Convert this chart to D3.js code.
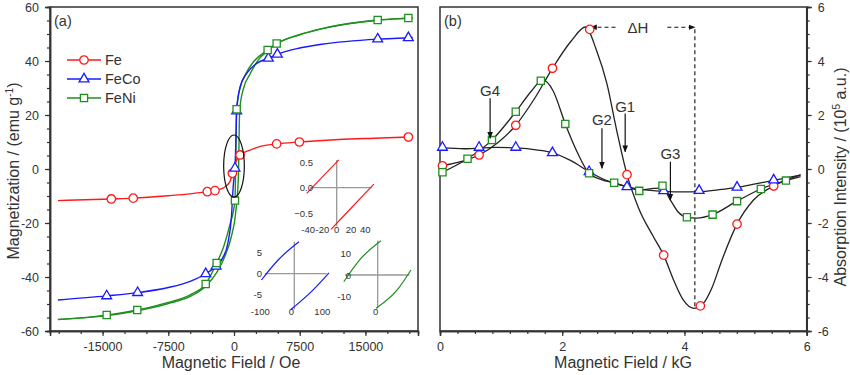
<!DOCTYPE html>
<html>
<head>
<meta charset="utf-8">
<script src="https://cdn.jsdelivr.net/npm/d3@7"></script>
<style>
    body { margin: 0; background: #fff; }
    svg text { font-family: "Liberation Sans", Arial, sans-serif; fill: #333; }
</style>
</head>
<body>
<svg id="chart" width="850" height="375"></svg>
<script>
// ---------- data, panel (a): field (Oe) vs magnetization (emu/g) ----------
const feLineA = [[-20100,-11.7],[-14000,-11.1],[-11500,-10.8],[-7500,-9.9],[-5000,-9.2],[-3050,-8.4],[-2170,-8.0],[-1200,-7.0],[-460,-4.7],[-190,-1.6],[200,2.6],[690,5.2],[1830,7.0],[3000,8.4],[4870,9.3],[7460,10.0],[12000,10.9],[16000,11.4],[19900,11.85],[20400,11.9]];
const feMarksA = [[-14000,-11.1],[-11500,-10.8],[-3050,-8.4],[-2170,-8.0],[-190,-1.6],[690,5.2],[4870,9.3],[7460,10.0],[19900,11.85]];

const fecoLineA = [[-20100,-48.5],[-14530,-47.0],[-11000,-45.8],[-7500,-43.9],[-5000,-41.6],[-3230,-38.8],[-2050,-36.0],[-1300,-33.0],[-700,-27.5],[-300,-18],[-80,-6],[110,0.3],[230,12],[300,21.5],[700,30.5],[1450,35.4],[2590,39.1],[3920,41.0],[4950,42.5],[7500,44.8],[10000,46.2],[16400,48.1],[19900,48.6],[20400,48.7]];
const fecoMarksA = [[-14530,-47.0],[-11000,-45.8],[-3230,-38.8],[-2050,-36.0],[110,0.3],[300,21.5],[3920,41.0],[4950,42.5],[16400,48.1],[19900,48.6]];

// FeNi shows two visible branches of the loop
const feniDownA = [[-20100,-55.7],[-14530,-54.1],[-11040,-52.2],[-7500,-49.4],[-5000,-46.6],[-3230,-42.6],[-1980,-34.8],[-1200,-29],[-500,-21],[110,-11.7],[300,22.1],[700,30],[1300,35],[2300,40],[3840,44.1],[4870,46.5],[7500,49.8],[10000,52.0],[16400,55.2],[19900,55.9],[20400,56.0]];
const feniUpA = [[-20100,-55.8],[-14530,-54.3],[-11040,-52.5],[-7500,-49.8],[-5000,-47.2],[-3230,-43.4],[-2000,-38.5],[-1000,-32],[-300,-25],[200,-16],[500,-3],[650,22],[1100,30],[1800,35],[2800,40.5],[3840,43.8],[4870,46.3],[7500,49.7],[10000,51.9],[16400,55.1],[19900,55.8],[20400,55.9]];
const feniMarksA = [[-14530,-54.1],[-11040,-52.2],[-3230,-42.6],[-1980,-34.8],[110,-11.7],[300,22.1],[3840,44.1],[4870,46.5],[16400,55.2],[19900,55.9]];

// insets (low field zoom)
const feInsetUp = [[-42,-0.11],[-20,0.21],[3,0.54]];
const feInsetLow = [[-8,-0.81],[22,-0.37],[52,0.07]];
const fecoInsetUp = [[-106,-1.5],[-53,3.2],[15,7.6]];
const fecoInsetLow = [[-12,-8.6],[60,-3.9],[112,0.2]];
const feniInsetUp = [[-106,-3.1],[-57,6.9],[10,15.8]];
const feniInsetLow = [[-5,-15.3],[61,-6.9],[104,2.3]];

const xTicksA = [-15000, -7500, 0, 7500, 15000];
const yTicksA = [-60, -40, -20, 0, 20, 40, 60];

// ---------- data, panel (b): field (kG) vs absorption (1e5 a.u.) ----------
const feLineB = [[0.04,0.12],[0.35,0.28],[0.64,0.52],[0.95,0.98],[1.24,1.62],[1.55,2.62],[1.84,3.73],[2.15,4.75],[2.38,5.26],[2.56,4.4],[2.73,3.17],[2.89,1.44],[3.06,-0.21],[3.25,-1.45],[3.49,-2.5],[3.66,-3.19],[3.82,-4.1],[3.98,-4.85],[4.15,-5.16],[4.3,-5.0],[4.45,-4.4],[4.6,-3.45],[4.86,-2.04],[5.13,-1.15],[5.46,-0.63],[5.9,-0.22]];
const feMarksB = [[0.04,0.12],[0.64,0.52],[1.24,1.62],[1.84,3.73],[2.45,5.17],[3.06,-0.21],[3.66,-3.19],[4.26,-5.07],[4.86,-2.04],[5.46,-0.63]];

const fecoLineB = [[0.04,0.78],[0.4,0.75],[0.9,0.8],[1.24,0.78],[1.6,0.7],[1.84,0.6],[2.15,0.3],[2.44,-0.1],[2.75,-0.45],[3.06,-0.66],[3.4,-0.78],[3.66,-0.83],[4.0,-0.85],[4.24,-0.84],[4.55,-0.77],[4.86,-0.68],[5.16,-0.55],[5.46,-0.42],[5.9,-0.22]];
const fecoMarksB = [[0.04,0.8],[0.64,0.8],[1.24,0.8],[1.84,0.6],[2.44,-0.1],[3.06,-0.66],[3.66,-0.81],[4.24,-0.8],[4.86,-0.68],[5.46,-0.41]];

const feniLineB = [[0.04,-0.12],[0.45,0.38],[0.85,1.07],[1.24,2.12],[1.5,2.9],[1.68,3.3],[1.85,2.9],[2.05,1.67],[2.24,0.65],[2.44,-0.16],[2.65,-0.4],[2.85,-0.51],[3.05,-0.65],[3.26,-0.78],[3.5,-0.72],[3.64,-0.7],[3.77,-1.15],[3.9,-1.6],[4.04,-1.79],[4.2,-1.82],[4.46,-1.69],[4.86,-1.19],[5.25,-0.74],[5.66,-0.43],[5.9,-0.28]];
const feniMarksB = [[0.04,-0.12],[0.45,0.38],[0.85,1.07],[1.24,2.12],[1.65,3.27],[2.05,1.67],[2.44,-0.16],[2.85,-0.51],[3.26,-0.81],[3.64,-0.62],[4.04,-1.79],[4.46,-1.69],[4.86,-1.19],[5.25,-0.74],[5.66,-0.43]];

const xTicksB = [0, 2, 4, 6];
const yTicksB = [-6, -4, -2, 0, 2, 4, 6];

// labels with arrows: [text, field, text y, arrow from, arrow to]
const gLabels = [
    ["G4", 0.82, 2.9, 2.62, 1.14],
    ["G1", 3.03, 2.33, 2.06, 0.64],
    ["G2", 2.65, 1.84, 1.51, 0.03],
    ["G3", 3.77, 0.56, 0.27, -1.15]
];
const dH = { from: 2.43, to: 4.17, top: 5.25, bottom: -5.16 };

const seriesNames = ["Fe", "FeCo", "FeNi"];
const RED = "#ff1a1a", BLUE = "#1a1aff", GREEN = "#1f8f1f";

// ---------- setup ----------
const svg = d3.select("#chart");
const AXIS = "#333";

const defs = svg.append("defs");
defs.append("marker")
    .attr("id", "arrow")
    .attr("viewBox", "0 0 10 10")
    .attr("refX", 9).attr("refY", 5)
    .attr("markerWidth", 7).attr("markerHeight", 7)
    .attr("orient", "auto-start-reverse")
    .attr("markerUnits", "userSpaceOnUse")
  .append("path")
    .attr("d", "M0,1 L10,5 L0,9 Z")
    .attr("fill", "#111");

const shapes = {
    circle: d3.symbol(d3.symbolCircle, 56),
    triangle: d3.symbol(d3.symbolTriangle, 42),
    square: d3.symbol(d3.symbolSquare, 52)
};

function drawLine(g, data, x, y, color, width) {
    g.append("path")
        .datum(data)
        .attr("fill", "none")
        .attr("stroke", color)
        .attr("stroke-width", width)
        .attr("d", d3.line().x(d => x(d[0])).y(d => y(d[1])).curve(d3.curveMonotoneX));
}

function drawMarks(g, data, x, y, shape, color) {
    g.selectAll(null)
        .data(data)
        .enter().append("path")
        .attr("d", shapes[shape])
        .attr("transform", d => `translate(${x(d[0])},${y(d[1])})`)
        .attr("fill", "#fff")
        .attr("stroke", color)
        .attr("stroke-width", 1.3);
}

function styleAxis(g) {
    g.selectAll(".domain").attr("stroke", AXIS).attr("stroke-width", 1.5);
    g.selectAll(".tick line").attr("stroke", AXIS).attr("stroke-width", 1.2);
    g.selectAll(".tick text").attr("fill", "#333").style("font-size", "12.5px")
        .style("font-family", '"Liberation Sans", Arial, sans-serif');
}

// ================= panel (a) =================
const A = { left: 50, right: 418, top: 7, bottom: 331 };
const xA = d3.scaleLinear().domain([-21000, 21000]).range([A.left, A.right]);
const yA = d3.scaleLinear().domain([-60, 60]).range([A.bottom, A.top]);

const gA = svg.append("g");

// frame
gA.append("rect")
    .attr("x", A.left).attr("y", A.top)
    .attr("width", A.right - A.left).attr("height", A.bottom - A.top)
    .attr("fill", "none").attr("stroke", AXIS).attr("stroke-width", 1.5);

gA.append("g").attr("transform", `translate(0,${A.bottom})`)
    .call(d3.axisBottom(xA).tickValues(d3.range(-20000, 20001, 2500)).tickSize(3).tickFormat(""))
    .call(styleAxis);
gA.append("g").attr("transform", `translate(0,${A.bottom})`)
    .call(d3.axisBottom(xA).tickValues(xTicksA).tickSize(5).tickPadding(6).tickFormat(d => String(d)))
    .call(styleAxis);
gA.append("g").attr("transform", `translate(${A.left},0)`)
    .call(d3.axisLeft(yA).tickValues(d3.range(-60, 61, 5)).tickSize(3).tickFormat(""))
    .call(styleAxis);
gA.append("g").attr("transform", `translate(${A.left},0)`)
    .call(d3.axisLeft(yA).tickValues(yTicksA).tickSize(5).tickPadding(6).tickFormat(d => String(d)))
    .call(styleAxis);

// curves
drawLine(gA, feniDownA, xA, yA, GREEN, 1.4);
drawLine(gA, feniUpA, xA, yA, GREEN, 1.4);
drawLine(gA, fecoLineA, xA, yA, BLUE, 1.4);
drawLine(gA, feLineA, xA, yA, RED, 1.4);
drawMarks(gA, feMarksA, xA, yA, "circle", RED);
drawMarks(gA, fecoMarksA, xA, yA, "triangle", BLUE);
drawMarks(gA, feniMarksA, xA, yA, "square", GREEN);

// ellipse around low-field region
gA.append("ellipse")
    .attr("cx", xA(0)).attr("cy", yA(1.1))
    .attr("rx", xA(1180) - xA(0)).attr("ry", yA(0) - yA(11.5))
    .attr("fill", "none").attr("stroke", "#111").attr("stroke-width", 1.2);

// legend
const legendShapes = ["circle", "triangle", "square"];
const legendColors = [RED, BLUE, GREEN];
seriesNames.forEach((name, i) => {
    const ly = 60 + i * 19;
    gA.append("line").attr("x1", 67).attr("x2", 101).attr("y1", ly).attr("y2", ly)
        .attr("stroke", legendColors[i]).attr("stroke-width", 1.4);
    gA.append("path").attr("d", shapes[legendShapes[i]])
        .attr("transform", `translate(84,${ly})`)
        .attr("fill", "#fff").attr("stroke", legendColors[i]).attr("stroke-width", 1.3);
    gA.append("text").attr("x", 105).attr("y", ly + 5).style("font-size", "14.5px").text(name);
});

gA.append("text").attr("x", 54).attr("y", 26).style("font-size", "14.5px").text("(a)");

// insets
function drawInset(cfg) {
    const g = gA.append("g");
    const x = d3.scaleLinear().domain([0, 100]).range([cfg.x0, cfg.x0 + cfg.kx * 100]);
    const y = d3.scaleLinear().domain([0, 1]).range([cfg.y0, cfg.y0 - cfg.ky]);
    g.append("line").attr("x1", x(cfg.hx[0])).attr("x2", x(cfg.hx[1]))
        .attr("y1", y(0)).attr("y2", y(0)).attr("stroke", "#999").attr("stroke-width", 1.3);
    g.append("line").attr("x1", x(0)).attr("x2", x(0))
        .attr("y1", y(cfg.vy[0])).attr("y2", y(cfg.vy[1])).attr("stroke", "#999").attr("stroke-width", 1.3);
    cfg.lines.forEach(l => drawLine(g, l, x, y, cfg.color, 1.2));
    cfg.yLabels.forEach(v => {
        g.append("text").attr("x", cfg.yLabelX).attr("y", y(v) + 3.5)
            .attr("text-anchor", "end").style("font-size", "9.5px").text(cfg.yFmt(v));
    });
    cfg.xLabels.forEach(v => {
        g.append("text").attr("x", x(v) + cfg.xShift).attr("y", cfg.xLabelY)
            .attr("text-anchor", "middle").style("font-size", "9.5px").text(String(v));
    });
}

drawInset({
    x0: 336.7, kx: 14.3 / 20, y0: 187.7, ky: 51.4,
    hx: [-37, 49], vy: [-0.75, 0.54], color: RED,
    lines: [feInsetUp, feInsetLow],
    yLabels: [0.5, 0, -0.5], yFmt: d3.format(".1f"), yLabelX: 313,
    xLabels: [-40, -20, 0, 20, 40], xShift: 0, xLabelY: 233
});
drawInset({
    x0: 294.3, kx: 0.31, y0: 273.7, ky: 4.2,
    hx: [-95, 105], vy: [-8.5, 7.6], color: BLUE,
    lines: [fecoInsetUp, fecoInsetLow],
    yLabels: [5, 0, -5], yFmt: d => String(d), yLabelX: 262,
    xLabels: [-100, 0, 100], xShift: -3, xLabelY: 315
});
drawInset({
    x0: 377.7, kx: 0.32, y0: 275, ky: 2.17,
    hx: [-102, 99], vy: [-15.4, 15.9], color: GREEN,
    lines: [feniInsetUp, feniInsetLow],
    yLabels: [10, 0, -10], yFmt: d => String(d), yLabelX: 351,
    xLabels: [0], xShift: -2, xLabelY: 315
});

// axis titles (a)
gA.append("text").attr("x", 231).attr("y", 368).attr("text-anchor", "middle")
    .style("font-size", "16px").text("Magnetic Field / Oe");
const tA = gA.append("text").attr("transform", "translate(19,171) rotate(-90)")
    .attr("text-anchor", "middle").style("font-size", "16px");
tA.append("tspan").text("Magnetization / (emu g");
tA.append("tspan").attr("dy", -6).style("font-size", "10px").text("-1");
tA.append("tspan").attr("dy", 6).text(")");

// ================= panel (b) =================
const B = { left: 440, right: 806.7, top: 7, bottom: 331 };
const xB = d3.scaleLinear().domain([0, 6]).range([B.left, B.right]);
const yB = d3.scaleLinear().domain([-6, 6]).range([B.bottom, B.top]);

const gB = svg.append("g");
gB.append("rect")
    .attr("x", B.left).attr("y", B.top)
    .attr("width", B.right - B.left).attr("height", B.bottom - B.top)
    .attr("fill", "none").attr("stroke", AXIS).attr("stroke-width", 1.5);

gB.append("g").attr("transform", `translate(0,${B.bottom})`)
    .call(d3.axisBottom(xB).tickValues(d3.range(0, 6.001, 2 / 7)).tickSize(3).tickFormat(""))
    .call(styleAxis);
gB.append("g").attr("transform", `translate(0,${B.bottom})`)
    .call(d3.axisBottom(xB).tickValues(xTicksB).tickSize(5).tickPadding(6).tickFormat(d => String(d)))
    .call(styleAxis);
gB.append("g").attr("transform", `translate(${B.right},0)`)
    .call(d3.axisRight(yB).tickValues(d3.range(-6, 6.01, 0.5)).tickSize(3).tickFormat(""))
    .call(styleAxis);
gB.append("g").attr("transform", `translate(${B.right},0)`)
    .call(d3.axisRight(yB).tickValues(yTicksB).tickSize(5).tickPadding(6).tickFormat(d => String(d)))
    .call(styleAxis);

// dashed delta-H guide
const dash = "4,3";
const dHx = (dH.from + dH.to) / 2 - 0.06;
gB.append("line").attr("x1", xB(dH.from) + 2).attr("x2", xB(2.88))
    .attr("y1", yB(dH.top)).attr("y2", yB(dH.top))
    .attr("stroke", "#111").attr("stroke-dasharray", dash).attr("stroke-width", 1.1)
    .attr("marker-start", "url(#arrow)");
gB.append("line").attr("x1", xB(3.72)).attr("x2", xB(dH.to))
    .attr("y1", yB(dH.top)).attr("y2", yB(dH.top))
    .attr("stroke", "#111").attr("stroke-dasharray", dash).attr("stroke-width", 1.1)
    .attr("marker-end", "url(#arrow)");
gB.append("line").attr("x1", xB(dH.to)).attr("x2", xB(dH.to))
    .attr("y1", yB(dH.top) + 2).attr("y2", yB(dH.bottom))
    .attr("stroke", "#111").attr("stroke-dasharray", dash).attr("stroke-width", 1.1);
gB.append("text").attr("x", xB(dHx)).attr("y", yB(dH.top) + 5.5)
    .attr("text-anchor", "middle").style("font-size", "15px").text("\u0394H");

// curves
drawLine(gB, feLineB, xB, yB, "#222", 1.3);
drawLine(gB, fecoLineB, xB, yB, "#222", 1.3);
drawLine(gB, feniLineB, xB, yB, "#222", 1.3);
drawMarks(gB, feMarksB, xB, yB, "circle", RED);
drawMarks(gB, fecoMarksB, xB, yB, "triangle", BLUE);
drawMarks(gB, feniMarksB, xB, yB, "square", GREEN);

// G labels with arrows
gLabels.forEach(([label, h, ty, a0, a1]) => {
    gB.append("text").attr("x", xB(h)).attr("y", yB(ty) + 5.5)
        .attr("text-anchor", "middle").style("font-size", "15px").text(label);
    gB.append("line").attr("x1", xB(h)).attr("x2", xB(h))
        .attr("y1", yB(a0)).attr("y2", yB(a1))
        .attr("stroke", "#111").attr("stroke-width", 1.2)
        .attr("marker-end", "url(#arrow)");
});

gB.append("text").attr("x", 444).attr("y", 26).style("font-size", "14.5px").text("(b)");

// axis titles (b)
gB.append("text").attr("x", 623).attr("y", 368).attr("text-anchor", "middle")
    .style("font-size", "16px").text("Magnetic Field / kG");
const tB = gB.append("text").attr("transform", "translate(846,177) rotate(-90)")
    .attr("text-anchor", "middle").style("font-size", "16px");
tB.append("tspan").text("Absorption Intensity / (10");
tB.append("tspan").attr("dy", -6).style("font-size", "10px").text("5");
tB.append("tspan").attr("dy", 6).text(" a.u.)");
</script>
</body>
</html>
